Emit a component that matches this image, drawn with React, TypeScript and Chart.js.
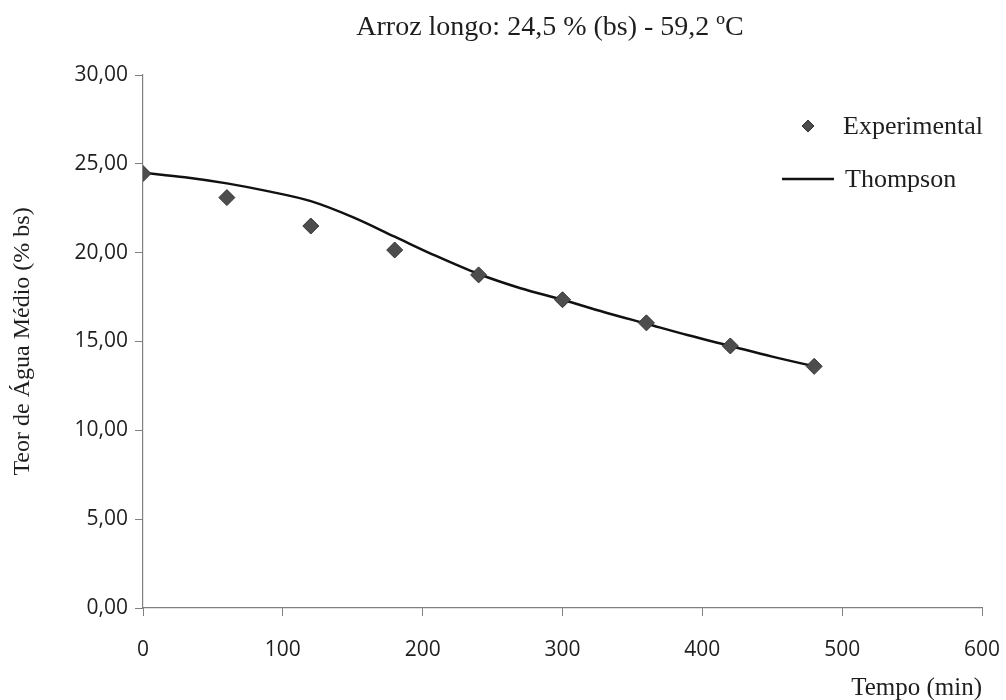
import React, { useEffect, useRef } from "react";
import { Chart, registerables } from "chart.js";

Chart.register(...registerables);

const TITLE = "Arroz longo: 24,5 % (bs) - 59,2 ºC";
const X_TITLE = "Tempo (min)";
const Y_TITLE = "Teor de Água Médio (% bs)";
const SERIES_NAMES = ["Experimental", "Thompson"];

const expTimes = [0, 60, 120, 180, 240, 300, 360, 420, 480];
const expValues = [24.45, 23.1, 21.5, 20.15, 18.75, 17.35, 16.05, 14.75, 13.6];

const thTimes = [0, 30, 60, 90, 120, 150, 180, 210, 240, 270, 300, 330, 360, 390, 420, 450, 480];
const thValues = [24.5, 24.25, 23.9, 23.45, 22.9, 22.0, 20.9, 19.8, 18.8, 18.0, 17.35, 16.65, 16.0, 15.35, 14.75, 14.15, 13.6];

const X_MIN = 0;
const X_MAX = 600;
const X_STEP = 100;
const Y_MIN = 0;
const Y_MAX = 30;
const Y_STEP = 5;

const AXIS_COLOR = "#808080";
const TEXT_COLOR = "#1e1e1e";
const MARKER_COLOR = "#4d4d4d";

const overlayPlugin = {
  id: "overlay",
  afterDraw(chart: any) {
    const ctx = chart.ctx as CanvasRenderingContext2D;
    ctx.save();
    ctx.fillStyle = TEXT_COLOR;
    ctx.font = "28px 'Liberation Serif', serif";
    ctx.textAlign = "center";
    ctx.textBaseline = "middle";
    ctx.fillText(TITLE, 550, 28);

    // x axis title
    ctx.font = "25px 'Liberation Serif', serif";
    ctx.textAlign = "right";
    ctx.fillText(X_TITLE, chart.chartArea.right, 688);

    // legend
    const labels = chart.data.datasets.map((d: any) => d.label);
    ctx.font = "26px 'Liberation Serif', serif";
    ctx.textAlign = "left";
    const dx = 808, dy = 126, r = 6;
    ctx.beginPath();
    ctx.moveTo(dx, dy - r);
    ctx.lineTo(dx + r, dy);
    ctx.lineTo(dx, dy + r);
    ctx.lineTo(dx - r, dy);
    ctx.closePath();
    ctx.fillStyle = MARKER_COLOR;
    ctx.fill();
    ctx.strokeStyle = "#333";
    ctx.lineWidth = 1;
    ctx.stroke();
    ctx.fillStyle = TEXT_COLOR;
    ctx.fillText(labels[0], 843, 127);
    ctx.beginPath();
    ctx.moveTo(782, 179);
    ctx.lineTo(834, 179);
    ctx.strokeStyle = "#111";
    ctx.lineWidth = 2.5;
    ctx.stroke();
    ctx.fillText(labels[1], 845, 180);
    ctx.restore();
  },
};

const fmt = (v: number) => v.toFixed(2).replace(".", ",");

export default function App() {
  const ref = useRef<HTMLCanvasElement | null>(null);

  useEffect(() => {
    if (!ref.current) return;
    const chart = new Chart(ref.current, {
      type: "scatter",
      data: {
        datasets: [
          {
            label: SERIES_NAMES[0],
            data: expTimes.map((t, i) => ({ x: t, y: expValues[i] })),
            showLine: false,
            pointStyle: "rectRot",
            pointRadius: 8,
            pointBackgroundColor: MARKER_COLOR,
            pointBorderColor: "#333",
            pointBorderWidth: 1,
            order: 0,
          },
          {
            label: SERIES_NAMES[1],
            data: thTimes.map((t, i) => ({ x: t, y: thValues[i] })),
            showLine: true,
            borderColor: "#111",
            borderWidth: 2.5,
            pointRadius: 0,
            cubicInterpolationMode: "monotone",
            fill: false,
            order: 1,
          },
        ],
      },
      options: {
        responsive: false,
        animation: false,
        layout: { padding: { top: 75, right: 24, bottom: 0, left: 0 } },
        plugins: {
          legend: { display: false },
          title: { display: false },
          tooltip: { enabled: false },
        },
        scales: {
          x: {
            type: "linear",
            min: X_MIN,
            max: X_MAX,
            ticks: {
              stepSize: X_STEP,
              color: TEXT_COLOR,
              font: { family: "'Open Sans', sans-serif", size: 21 },
              padding: 21,
            },
            grid: {
              drawOnChartArea: false,
              drawTicks: true,
              tickLength: 8,
              color: AXIS_COLOR,
              tickColor: AXIS_COLOR,
            },
            border: { display: true, color: AXIS_COLOR, width: 1.2 },
            title: { display: false },
            afterFit: (scale: any) => {
              scale.height = 92;
              scale.paddingRight = 0;
              scale.paddingLeft = 0;
            },
          },
          y: {
            type: "linear",
            min: Y_MIN,
            max: Y_MAX,
            ticks: {
              stepSize: Y_STEP,
              color: TEXT_COLOR,
              font: { family: "'Open Sans', sans-serif", size: 21 },
              padding: 7,
              callback: (v: any) => fmt(Number(v)),
            },
            grid: {
              drawOnChartArea: false,
              drawTicks: true,
              tickLength: 8,
              color: AXIS_COLOR,
              tickColor: AXIS_COLOR,
            },
            border: { display: true, color: AXIS_COLOR, width: 1.2 },
            title: {
              display: true,
              text: Y_TITLE,
              color: TEXT_COLOR,
              font: { family: "'Liberation Serif', serif", size: 24 },
              padding: { top: 8, bottom: 0 },
            },
            afterFit: (scale: any) => {
              scale.width = 143;
            },
          },
        },
      } as any,
      plugins: [overlayPlugin],
    });
    return () => chart.destroy();
  }, []);

  return (
    <div style={{ position: "absolute", left: 0, top: 0, width: 1006, height: 700, background: "#fff" }}>
      <canvas ref={ref} width={1006} height={700} style={{ display: "block" }} />
    </div>
  );
}
